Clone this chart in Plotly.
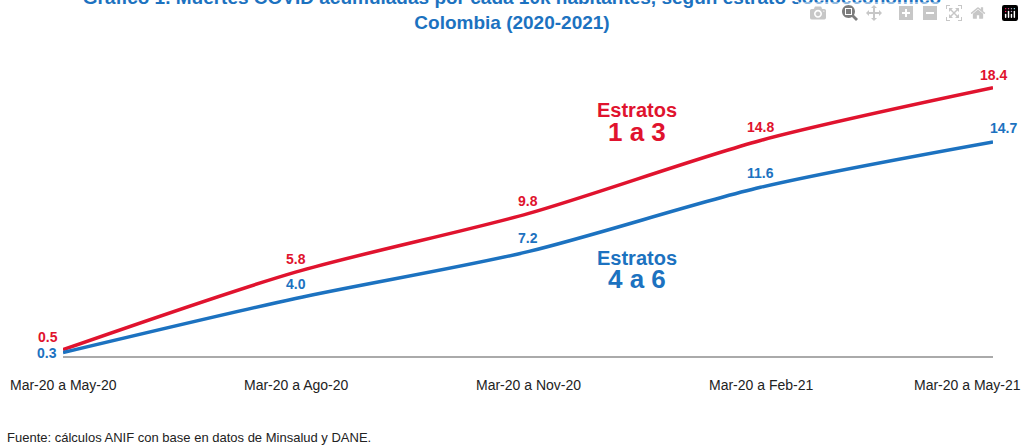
import plotly.graph_objects as go

periodos = ["Mar-20 a May-20", "Mar-20 a Ago-20", "Mar-20 a Nov-20", "Mar-20 a Feb-21", "Mar-20 a May-21"]
estratos_1_3 = [0.5, 5.8, 9.8, 14.8, 18.4]
estratos_4_6 = [0.3, 4.0, 7.2, 11.6, 14.7]

RED = "#E0132E"
BLUE = "#1C72C0"
FONT = "Liberation Sans, Arial"

xs = list(range(len(periodos)))

fig = go.Figure()
fig.add_trace(go.Scatter(x=xs, y=estratos_1_3, mode="lines", line=dict(color=RED, width=3.5, shape="spline", smoothing=0.8)))
fig.add_trace(go.Scatter(x=xs, y=estratos_4_6, mode="lines", line=dict(color=BLUE, width=3.5, shape="spline", smoothing=0.8)))

ann = []
#value labels
for i, v in enumerate(estratos_1_3):
    ann.append(dict(x=i, y=v, text="<b>%.1f</b>" % v, showarrow=False, yshift=13,
                    xshift=(-15 if i == 0 else 0), font=dict(color=RED, size=14, family=FONT)))
for i, v in enumerate(estratos_4_6):
    if i == 0:
        ann.append(dict(x=i, y=v, text="<b>%.1f</b>" % v, showarrow=False, xshift=-16, yshift=0,
                        font=dict(color=BLUE, size=14, family=FONT)))
    else:
        ann.append(dict(x=i, y=v, text="<b>%.1f</b>" % v, showarrow=False, yshift=14,
                        xshift=(10 if i == 4 else 0), font=dict(color=BLUE, size=14, family=FONT)))
#category labels
for i, p in enumerate(periodos):
    ann.append(dict(x=i, y=0, yref="y", text=p, showarrow=False, yshift=-28,
                    xanchor=("right" if i == 4 else "center"), xshift=(30 if i == 4 else 0),
                    font=dict(color="#222", size=14, family=FONT)))
#series names
ann.append(dict(x=2.47, y=16.9, text="<b>Estratos</b>", showarrow=False, font=dict(color=RED, size=20, family=FONT)))
ann.append(dict(x=2.47, y=15.4, text="<b>1 a 3</b>", showarrow=False, font=dict(color=RED, size=26, family=FONT)))
ann.append(dict(x=2.47, y=6.8, text="<b>Estratos</b>", showarrow=False, font=dict(color=BLUE, size=20, family=FONT)))
ann.append(dict(x=2.47, y=5.3, text="<b>4 a 6</b>", showarrow=False, font=dict(color=BLUE, size=26, family=FONT)))
ann.append(dict(x=0, y=0, xref="paper", yref="paper", xanchor="left", yanchor="middle",
                text="Fuente: cálculos ANIF con base en datos de Minsalud y DANE.", showarrow=False,
                xshift=-58, yshift=-80, font=dict(color="#222", size=13, family=FONT)))

fig.update_layout(
    width=1024, height=448,
    margin=dict(l=63, r=31, t=60, b=91),
    paper_bgcolor="white", plot_bgcolor="white",
    showlegend=False,
    title=dict(text="<b>Gráfico 1. Muertes COVID acumuladas por cada 10k habitantes, según estrato socioeconómico<br>Colombia (2020-2021)</b>",
               x=0.5, xanchor="center", y=0.99, yanchor="top",
               font=dict(color=BLUE, size=19, family=FONT)),
    xaxis=dict(range=[0, 4], showgrid=False, zeroline=False, showticklabels=False, fixedrange=True),
    yaxis=dict(range=[0, 20.3], showgrid=False, zeroline=True, zerolinecolor="#AAAAAA", zerolinewidth=1.5,
               showticklabels=False),
    annotations=ann,
)
fig.write_html("out.html", post_script="document.body.style.margin='0';")
